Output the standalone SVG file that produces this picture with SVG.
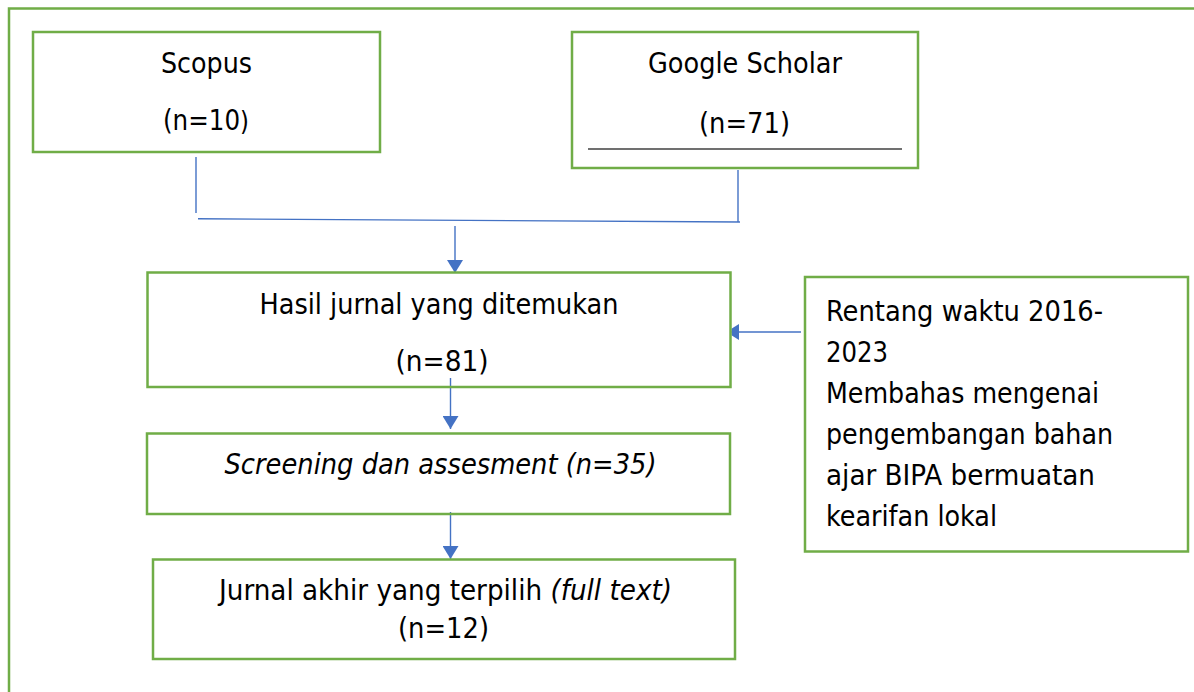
<svg xmlns="http://www.w3.org/2000/svg" width="1194" height="692" viewBox="0 0 1194 692">
<style>
.box{fill:none;stroke:#70AD47;stroke-width:2.5}
.con{fill:none;stroke:#4472C4;stroke-width:1.4}
.t{font-family:"DejaVu Sans Condensed","DejaVu Sans",Verdana,sans-serif;font-size:28px;fill:#000}
.c{text-anchor:middle}
.i{font-style:italic}
</style>
<defs>
<marker id="ah" markerUnits="userSpaceOnUse" viewBox="0 0 13 16" refX="13" refY="8" markerWidth="13" markerHeight="16" orient="auto">
<path d="M0,0 L13,8 L0,16 z" fill="#4472C4"/>
</marker>
<clipPath id="cut"><rect x="731.5" y="300" width="100" height="60"/></clipPath>
</defs>
<rect width="1194" height="692" fill="#fff"/>
<path d="M9,700 V8.5 H1200" fill="none" stroke="#70AD47" stroke-width="2.5"/>
<g id="connectors">
<line class="con" x1="196" y1="157" x2="196" y2="213"/>
<line class="con" x1="738" y1="170" x2="738" y2="222"/>
<line class="con" x1="198" y1="218.8" x2="740" y2="222"/>
<line class="con" x1="455" y1="226" x2="455" y2="273" marker-end="url(#ah)"/>
<line class="con" x1="450.5" y1="378" x2="450.5" y2="429" marker-end="url(#ah)"/>
<line class="con" x1="450.5" y1="512" x2="450.5" y2="559" marker-end="url(#ah)"/>
<line class="con" x1="801" y1="332" x2="726" y2="332" marker-end="url(#ah)" clip-path="url(#cut)"/>
</g>
<g id="scopus">
<rect class="box" x="33" y="32" width="347" height="120"/>
<text class="t c" x="206.5" y="73" textLength="91" lengthAdjust="spacingAndGlyphs">Scopus</text>
<text class="t c" x="206" y="130" textLength="86" lengthAdjust="spacingAndGlyphs">(n=10<tspan font-size="26">)</tspan></text>
</g>
<g id="google">
<rect class="box" x="572" y="32" width="346" height="136"/>
<text class="t c" x="745" y="73" textLength="194" lengthAdjust="spacingAndGlyphs">Google Scholar</text>
<text class="t c" x="744.5" y="133" textLength="91" lengthAdjust="spacingAndGlyphs">(n=71)</text>
<line x1="588" y1="149" x2="902" y2="149" stroke="#404040" stroke-width="1.3"/>
</g>
<g id="hasil">
<rect class="box" x="147.5" y="272.5" width="583" height="114.5"/>
<text class="t c" x="439" y="314" textLength="359" lengthAdjust="spacingAndGlyphs">Hasil jurnal yang ditemukan</text>
<text class="t c" x="442" y="371" textLength="93" lengthAdjust="spacingAndGlyphs">(n=81)</text>
</g>
<g id="screening">
<rect class="box" x="147" y="433.5" width="583" height="80.5"/>
<text class="t c i" x="440.5" y="474" textLength="432" lengthAdjust="spacingAndGlyphs">Screening dan assesment (n=35)</text>
</g>
<g id="final">
<rect class="box" x="153" y="559.5" width="582" height="99.5"/>
<text class="t" x="219" y="600" textLength="453" lengthAdjust="spacingAndGlyphs">Jurnal akhir yang terpilih <tspan class="i">(full text)</tspan></text>
<text class="t c" x="443.5" y="638" textLength="91" lengthAdjust="spacingAndGlyphs">(n=12)</text>
</g>
<g id="criteria">
<rect class="box" x="805" y="277" width="383" height="274.5"/>
<text class="t" x="826" y="321" textLength="277" lengthAdjust="spacingAndGlyphs">Rentang waktu 2016-</text>
<text class="t" x="826" y="362" textLength="62" lengthAdjust="spacingAndGlyphs">2023</text>
<text class="t" x="826" y="403" textLength="273" lengthAdjust="spacingAndGlyphs">Membahas mengenai</text>
<text class="t" x="826" y="444" textLength="287" lengthAdjust="spacingAndGlyphs">pengembangan bahan</text>
<text class="t" x="826" y="485" textLength="269" lengthAdjust="spacingAndGlyphs">ajar BIPA bermuatan</text>
<text class="t" x="826" y="526" textLength="171" lengthAdjust="spacingAndGlyphs">kearifan lokal</text>
</g>
</svg>
